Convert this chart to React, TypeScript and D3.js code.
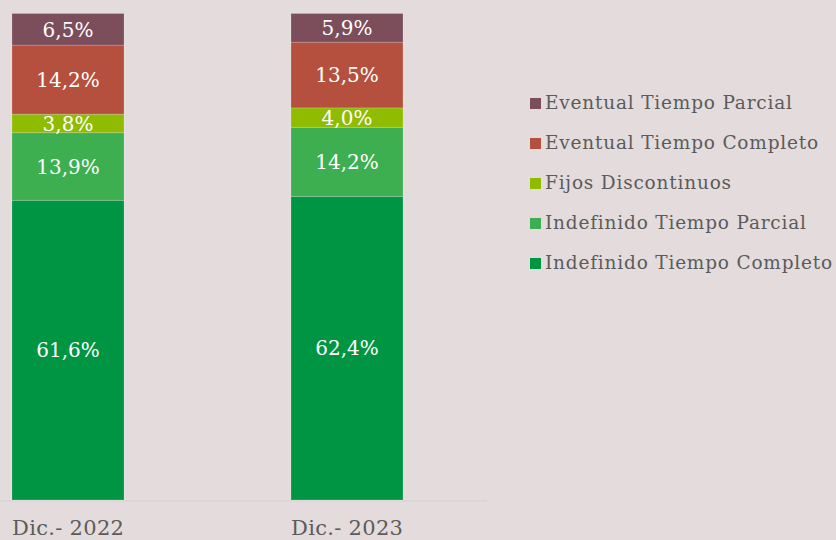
import React from 'react';
import * as d3 from 'd3';

const periods = ['Dic.- 2022', 'Dic.- 2023'];
const seriesNames = [
  'Indefinido Tiempo Completo',
  'Indefinido Tiempo Parcial',
  'Fijos Discontinuos',
  'Eventual Tiempo Completo',
  'Eventual Tiempo Parcial',
];
const indefinidoCompleto = [61.6, 62.4];
const indefinidoParcial = [13.9, 14.2];
const fijosDiscontinuos = [3.8, 4.0];
const eventualCompleto = [14.2, 13.5];
const eventualParcial = [6.5, 5.9];
const seriesColors = ['#009543', '#3daf50', '#8fbb00', '#b5503e', '#7c4d5b'];

const W = 836;
const H = 540;
const FONT = '"DejaVu Serif", serif';

export default function App() {
  const values = [indefinidoCompleto, indefinidoParcial, fijosDiscontinuos, eventualCompleto, eventualParcial];
  const rows = periods.map((p, i) => {
    const r: any = { period: p };
    seriesNames.forEach((s, j) => (r[s] = values[j][i]));
    return r;
  });
  const stacked = d3.stack().keys(seriesNames)(rows);

  // bars at 12..124 and 291..403
  const x = d3.scaleBand().domain(periods).range([12, 403]).paddingInner(0.5986).paddingOuter(0);
  const y = d3.scaleLinear().domain([0, 100]).range([500, 13.5]);
  const fmt = (v: number) => v.toFixed(1).replace('.', ',') + '%';

  return (
    <svg width={W} height={H} style={{ position: 'absolute', left: 0, top: 0, background: '#e3dbdc' }}>
      <rect width={W} height={H} fill="#e3dbdc" />
      <line x1={0} x2={487} y1={501} y2={501} stroke="#d3d3d0" strokeWidth={1} />
      {stacked.map((layer, j) => (
        <g key={layer.key}>
          {layer.map((d, i) => {
            const x0 = x(periods[i])!;
            const top = y(d[1]);
            const bot = y(d[0]);
            return (
              <g key={i}>
                <rect x={x0} y={top} width={x.bandwidth()} height={bot - top}
                  fill={seriesColors[j]} stroke="rgba(255,255,255,0.18)" strokeWidth={1} />
                <text x={x0 + x.bandwidth() / 2} y={(top + bot) / 2} dy="0.36em"
                  textAnchor="middle" fill="#ffffff" fontFamily={FONT} fontSize={20}>
                  {fmt(values[j][i])}
                </text>
              </g>
            );
          })}
        </g>
      ))}
      {periods.map((p) => (
        <text key={p} x={x(p)!} y={535} fill="#5b5b5b" fontFamily={FONT} fontSize={21} letterSpacing={0.3}>{p}</text>
      ))}
      {seriesNames.slice().reverse().map((s, k) => {
        const j = seriesNames.length - 1 - k;
        const cy = 103 + k * 40;
        return (
          <g key={s}>
            <rect x={530} y={cy - 5} width={11} height={11} fill={seriesColors[j]} />
            <text x={545} y={cy} dy="0.35em" fill="#5b5b5b" fontFamily={FONT} fontSize={18.5} letterSpacing={0.8}>{s}</text>
          </g>
        );
      })}
    </svg>
  );
}
